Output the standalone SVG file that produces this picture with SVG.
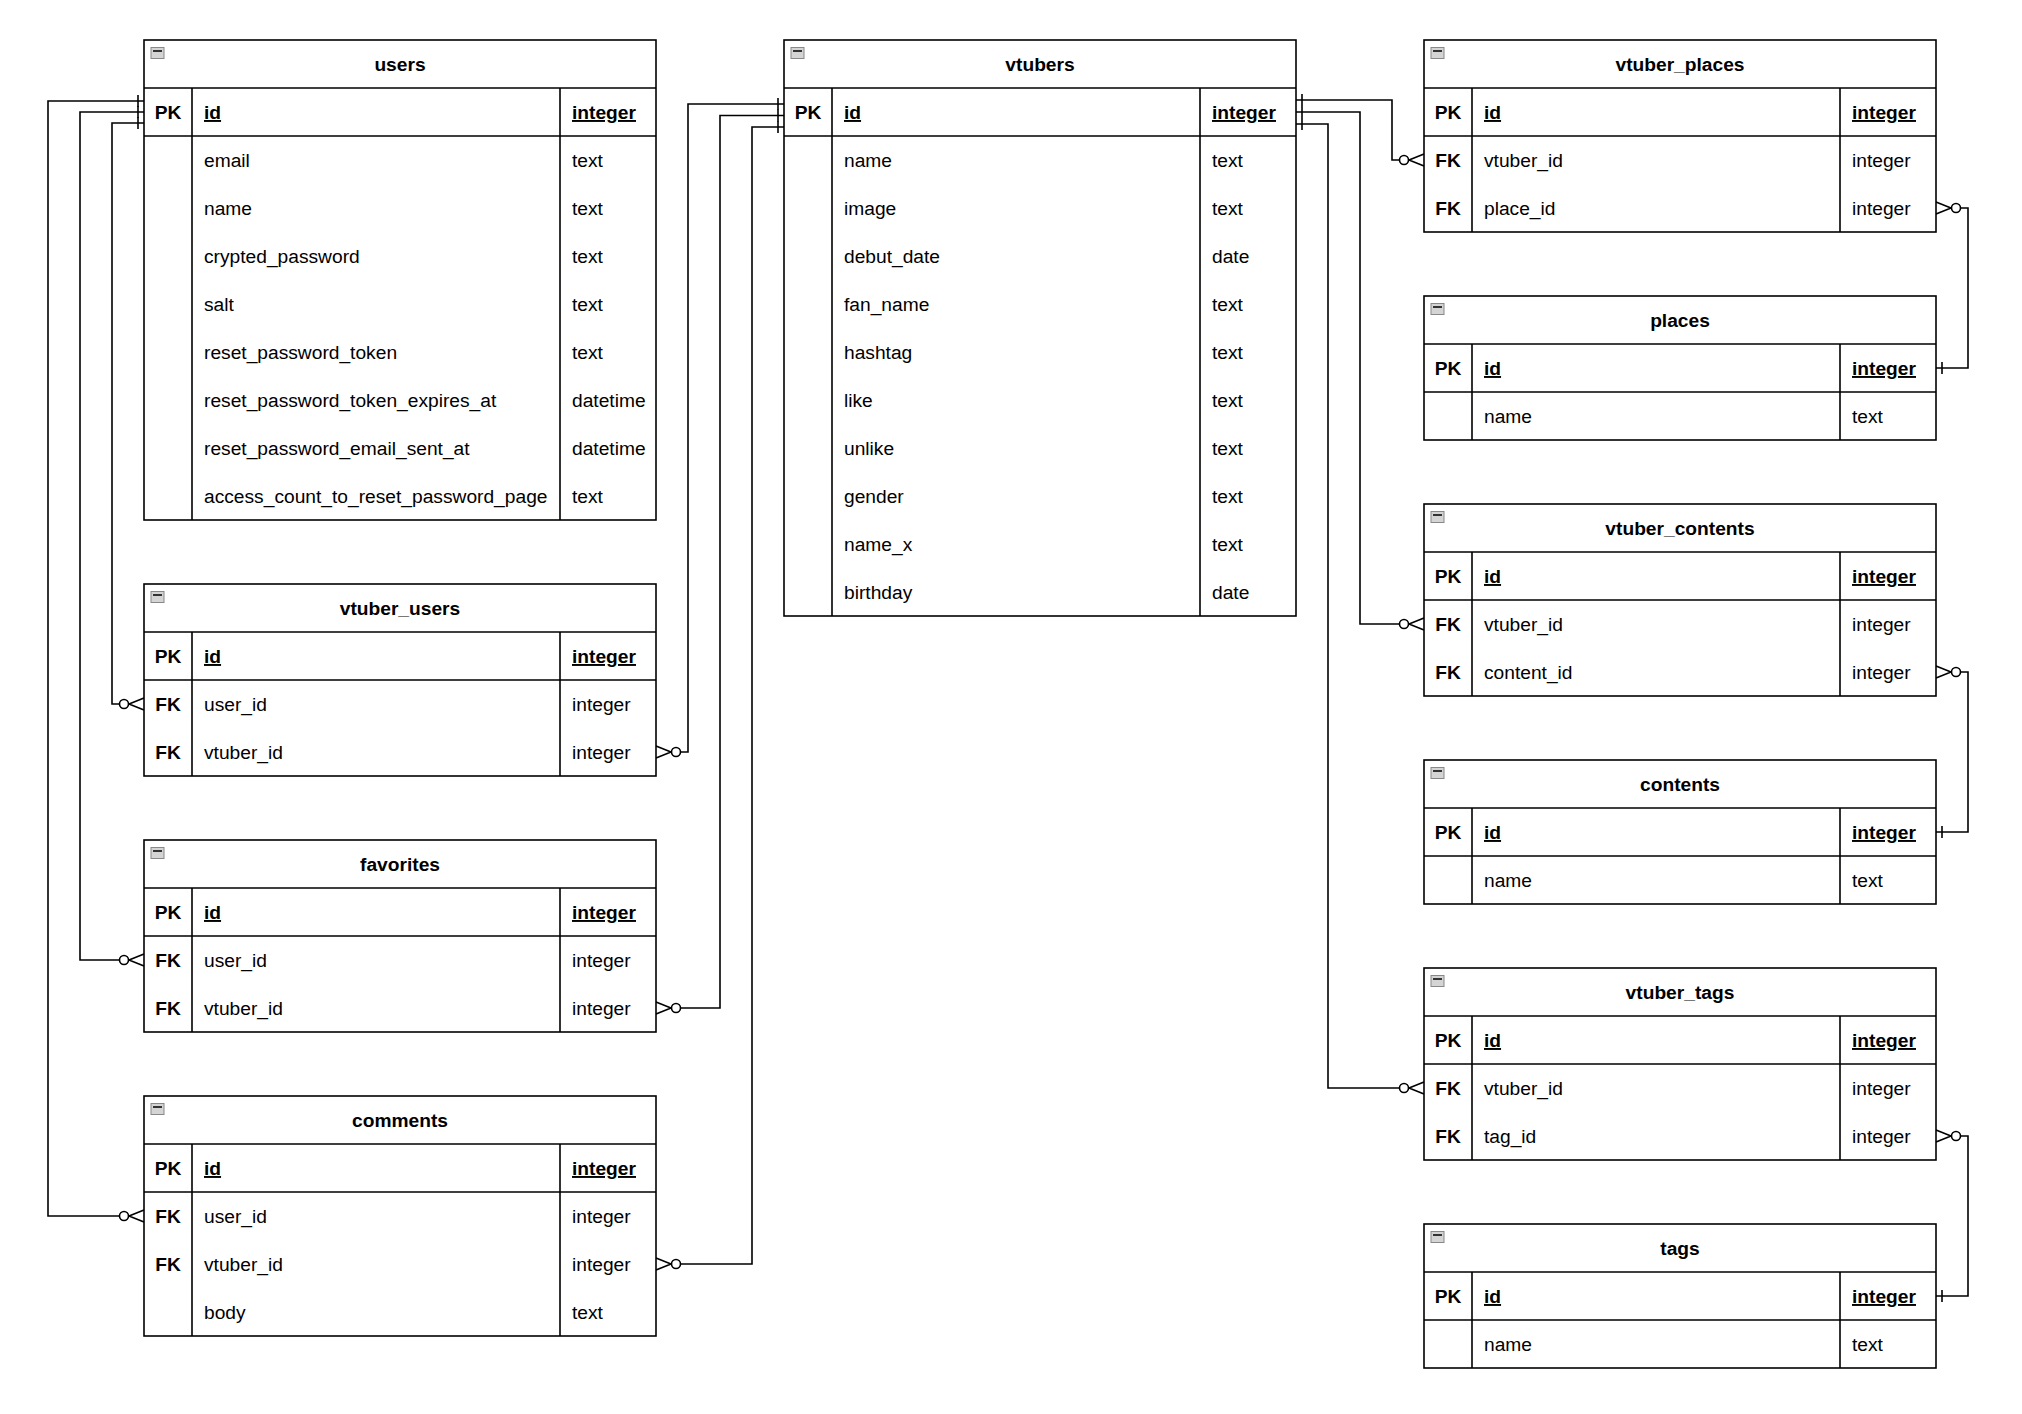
<svg xmlns="http://www.w3.org/2000/svg" width="2022" height="1414" viewBox="0 0 2022 1414">
<style>
text{font-family:"Liberation Sans",Arial,Helvetica,sans-serif;font-size:19.2px;fill:#000}
.t{font-weight:bold;text-anchor:middle}
.k{font-weight:bold;text-anchor:middle}
.pk{font-weight:bold;text-decoration:underline}
.box{fill:#fff;stroke:#000;stroke-width:1.6}
.sep{stroke:#000;stroke-width:1.6;fill:none}
.ic{fill:#d4d4d4;stroke:#888;stroke-width:1}
.icm{stroke:#333;stroke-width:2}
.conn path{fill:none;stroke:#000;stroke-width:1.6;marker-start:url(#one);marker-end:url(#zmany)}
</style>
<defs>
<marker id="one" markerUnits="userSpaceOnUse" orient="auto" refX="0" refY="0" markerWidth="20" markerHeight="20" overflow="visible">
<path d="M6,-6 V6" stroke="#000" stroke-width="1.6" fill="none"/>
</marker>
<marker id="zmany" markerUnits="userSpaceOnUse" orient="auto" refX="0" refY="0" markerWidth="30" markerHeight="20" overflow="visible">
<path d="M15,-6 L0,0 L15,6" stroke="#000" stroke-width="1.6" fill="none"/>
<circle cx="-5" cy="0" r="4.5" fill="#fff" stroke="#000" stroke-width="1.6"/>
</marker>
</defs>
<rect width="2022" height="1414" fill="#fff"/>

<g id="connectors" class="conn">
<path d="M144 101 H48 V1216 H129"/>
<path d="M144 112 H80 V960 H129"/>
<path d="M144 123 H112 V704 H129"/>
<path d="M784 104 H688 V752 H671"/>
<path d="M784 115.5 H720 V1008 H671"/>
<path d="M784 127 H752 V1264 H671"/>
<path d="M1296 100 H1392 V160 H1409"/>
<path d="M1296 112 H1360 V624 H1409"/>
<path d="M1296 124 H1328 V1088 H1409"/>
<path d="M1936 368 H1968 V208 H1951"/>
<path d="M1936 832 H1968 V672 H1951"/>
<path d="M1936 1296 H1968 V1136 H1951"/>
</g>

<g id="users" transform="translate(144,40)">
<rect class="box" width="512" height="480"/>
<path class="sep" d="M0 48 H512 M0 96 H512 M48 48 V480 M416 48 V480"/>
<rect class="ic" x="7" y="7.5" width="13" height="11"/><path class="icm" d="M9 11 H18"/>
<text class="t" x="256" y="31">users</text>
<text class="k" x="24" y="79">PK</text><text class="pk" x="60" y="79">id</text><text class="pk" x="428" y="79">integer</text>
<text x="60" y="127">email</text><text x="428" y="127">text</text>
<text x="60" y="175">name</text><text x="428" y="175">text</text>
<text x="60" y="223">crypted_password</text><text x="428" y="223">text</text>
<text x="60" y="271">salt</text><text x="428" y="271">text</text>
<text x="60" y="319">reset_password_token</text><text x="428" y="319">text</text>
<text x="60" y="367">reset_password_token_expires_at</text><text x="428" y="367">datetime</text>
<text x="60" y="415">reset_password_email_sent_at</text><text x="428" y="415">datetime</text>
<text x="60" y="463">access_count_to_reset_password_page</text><text x="428" y="463">text</text>
</g>

<g id="vtuber_users" transform="translate(144,584)">
<rect class="box" width="512" height="192"/>
<path class="sep" d="M0 48 H512 M0 96 H512 M48 48 V192 M416 48 V192"/>
<rect class="ic" x="7" y="7.5" width="13" height="11"/><path class="icm" d="M9 11 H18"/>
<text class="t" x="256" y="31">vtuber_users</text>
<text class="k" x="24" y="79">PK</text><text class="pk" x="60" y="79">id</text><text class="pk" x="428" y="79">integer</text>
<text class="k" x="24" y="127">FK</text><text x="60" y="127">user_id</text><text x="428" y="127">integer</text>
<text class="k" x="24" y="175">FK</text><text x="60" y="175">vtuber_id</text><text x="428" y="175">integer</text>
</g>

<g id="favorites" transform="translate(144,840)">
<rect class="box" width="512" height="192"/>
<path class="sep" d="M0 48 H512 M0 96 H512 M48 48 V192 M416 48 V192"/>
<rect class="ic" x="7" y="7.5" width="13" height="11"/><path class="icm" d="M9 11 H18"/>
<text class="t" x="256" y="31">favorites</text>
<text class="k" x="24" y="79">PK</text><text class="pk" x="60" y="79">id</text><text class="pk" x="428" y="79">integer</text>
<text class="k" x="24" y="127">FK</text><text x="60" y="127">user_id</text><text x="428" y="127">integer</text>
<text class="k" x="24" y="175">FK</text><text x="60" y="175">vtuber_id</text><text x="428" y="175">integer</text>
</g>

<g id="comments" transform="translate(144,1096)">
<rect class="box" width="512" height="240"/>
<path class="sep" d="M0 48 H512 M0 96 H512 M48 48 V240 M416 48 V240"/>
<rect class="ic" x="7" y="7.5" width="13" height="11"/><path class="icm" d="M9 11 H18"/>
<text class="t" x="256" y="31">comments</text>
<text class="k" x="24" y="79">PK</text><text class="pk" x="60" y="79">id</text><text class="pk" x="428" y="79">integer</text>
<text class="k" x="24" y="127">FK</text><text x="60" y="127">user_id</text><text x="428" y="127">integer</text>
<text class="k" x="24" y="175">FK</text><text x="60" y="175">vtuber_id</text><text x="428" y="175">integer</text>
<text x="60" y="223">body</text><text x="428" y="223">text</text>
</g>

<g id="vtubers" transform="translate(784,40)">
<rect class="box" width="512" height="576"/>
<path class="sep" d="M0 48 H512 M0 96 H512 M48 48 V576 M416 48 V576"/>
<rect class="ic" x="7" y="7.5" width="13" height="11"/><path class="icm" d="M9 11 H18"/>
<text class="t" x="256" y="31">vtubers</text>
<text class="k" x="24" y="79">PK</text><text class="pk" x="60" y="79">id</text><text class="pk" x="428" y="79">integer</text>
<text x="60" y="127">name</text><text x="428" y="127">text</text>
<text x="60" y="175">image</text><text x="428" y="175">text</text>
<text x="60" y="223">debut_date</text><text x="428" y="223">date</text>
<text x="60" y="271">fan_name</text><text x="428" y="271">text</text>
<text x="60" y="319">hashtag</text><text x="428" y="319">text</text>
<text x="60" y="367">like</text><text x="428" y="367">text</text>
<text x="60" y="415">unlike</text><text x="428" y="415">text</text>
<text x="60" y="463">gender</text><text x="428" y="463">text</text>
<text x="60" y="511">name_x</text><text x="428" y="511">text</text>
<text x="60" y="559">birthday</text><text x="428" y="559">date</text>
</g>

<g id="vtuber_places" transform="translate(1424,40)">
<rect class="box" width="512" height="192"/>
<path class="sep" d="M0 48 H512 M0 96 H512 M48 48 V192 M416 48 V192"/>
<rect class="ic" x="7" y="7.5" width="13" height="11"/><path class="icm" d="M9 11 H18"/>
<text class="t" x="256" y="31">vtuber_places</text>
<text class="k" x="24" y="79">PK</text><text class="pk" x="60" y="79">id</text><text class="pk" x="428" y="79">integer</text>
<text class="k" x="24" y="127">FK</text><text x="60" y="127">vtuber_id</text><text x="428" y="127">integer</text>
<text class="k" x="24" y="175">FK</text><text x="60" y="175">place_id</text><text x="428" y="175">integer</text>
</g>

<g id="places" transform="translate(1424,296)">
<rect class="box" width="512" height="144"/>
<path class="sep" d="M0 48 H512 M0 96 H512 M48 48 V144 M416 48 V144"/>
<rect class="ic" x="7" y="7.5" width="13" height="11"/><path class="icm" d="M9 11 H18"/>
<text class="t" x="256" y="31">places</text>
<text class="k" x="24" y="79">PK</text><text class="pk" x="60" y="79">id</text><text class="pk" x="428" y="79">integer</text>
<text x="60" y="127">name</text><text x="428" y="127">text</text>
</g>

<g id="vtuber_contents" transform="translate(1424,504)">
<rect class="box" width="512" height="192"/>
<path class="sep" d="M0 48 H512 M0 96 H512 M48 48 V192 M416 48 V192"/>
<rect class="ic" x="7" y="7.5" width="13" height="11"/><path class="icm" d="M9 11 H18"/>
<text class="t" x="256" y="31">vtuber_contents</text>
<text class="k" x="24" y="79">PK</text><text class="pk" x="60" y="79">id</text><text class="pk" x="428" y="79">integer</text>
<text class="k" x="24" y="127">FK</text><text x="60" y="127">vtuber_id</text><text x="428" y="127">integer</text>
<text class="k" x="24" y="175">FK</text><text x="60" y="175">content_id</text><text x="428" y="175">integer</text>
</g>

<g id="contents" transform="translate(1424,760)">
<rect class="box" width="512" height="144"/>
<path class="sep" d="M0 48 H512 M0 96 H512 M48 48 V144 M416 48 V144"/>
<rect class="ic" x="7" y="7.5" width="13" height="11"/><path class="icm" d="M9 11 H18"/>
<text class="t" x="256" y="31">contents</text>
<text class="k" x="24" y="79">PK</text><text class="pk" x="60" y="79">id</text><text class="pk" x="428" y="79">integer</text>
<text x="60" y="127">name</text><text x="428" y="127">text</text>
</g>

<g id="vtuber_tags" transform="translate(1424,968)">
<rect class="box" width="512" height="192"/>
<path class="sep" d="M0 48 H512 M0 96 H512 M48 48 V192 M416 48 V192"/>
<rect class="ic" x="7" y="7.5" width="13" height="11"/><path class="icm" d="M9 11 H18"/>
<text class="t" x="256" y="31">vtuber_tags</text>
<text class="k" x="24" y="79">PK</text><text class="pk" x="60" y="79">id</text><text class="pk" x="428" y="79">integer</text>
<text class="k" x="24" y="127">FK</text><text x="60" y="127">vtuber_id</text><text x="428" y="127">integer</text>
<text class="k" x="24" y="175">FK</text><text x="60" y="175">tag_id</text><text x="428" y="175">integer</text>
</g>

<g id="tags" transform="translate(1424,1224)">
<rect class="box" width="512" height="144"/>
<path class="sep" d="M0 48 H512 M0 96 H512 M48 48 V144 M416 48 V144"/>
<rect class="ic" x="7" y="7.5" width="13" height="11"/><path class="icm" d="M9 11 H18"/>
<text class="t" x="256" y="31">tags</text>
<text class="k" x="24" y="79">PK</text><text class="pk" x="60" y="79">id</text><text class="pk" x="428" y="79">integer</text>
<text x="60" y="127">name</text><text x="428" y="127">text</text>
</g>
</svg>
